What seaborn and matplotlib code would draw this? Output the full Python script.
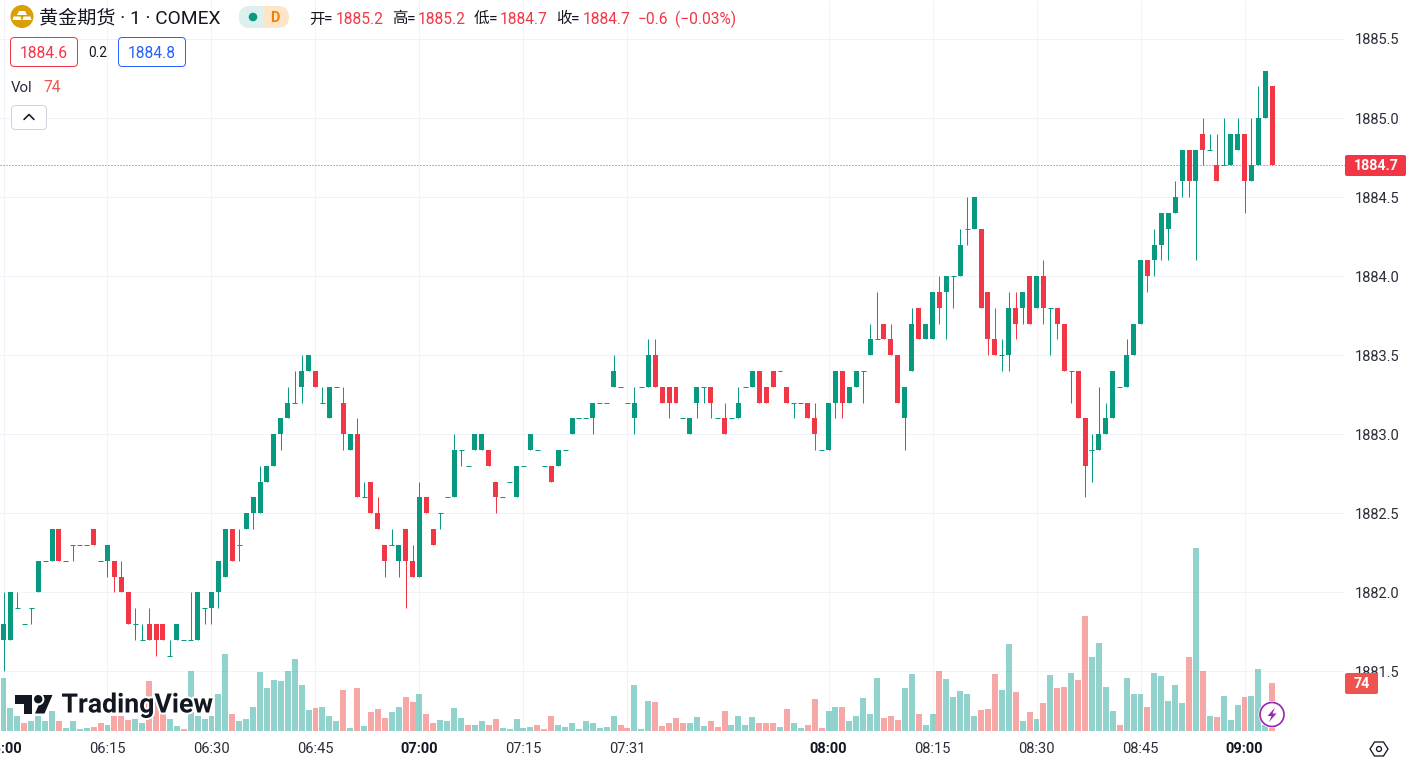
import numpy as np
import pandas as pd
import matplotlib
matplotlib.use("Agg")
import matplotlib.pyplot as plt
import matplotlib.patheffects as pe
from matplotlib.patches import Circle, FancyBboxPatch, Polygon, Rectangle
import seaborn as sns

opens = [
 1881.7,1881.7,1881.9,1881.8,1881.9,1882.0,1882.2,1882.2,1882.4,1882.2,
 1882.3,1882.3,1882.3,1882.4,1882.2,1882.2,1882.2,1882.1,1882.0,1881.8,
 1881.7,1881.8,1881.8,1881.8,1881.6,1881.7,1881.7,1881.7,1881.7,1881.9,
 1881.9,1882.0,1882.1,1882.4,1882.3,1882.4,1882.5,1882.5,1882.7,1882.8,
 1883.0,1883.1,1883.2,1883.3,1883.4,1883.4,1883.2,1883.1,1883.3,1883.2,
 1882.9,1883.0,1882.6,1882.7,1882.5,1882.3,1882.3,1882.2,1882.4,1882.2,
 1882.1,1882.6,1882.4,1882.5,1882.6,1882.6,1882.9,1882.8,1882.9,1882.9,
 1882.9,1882.7,1882.6,1882.7,1882.6,1882.8,1882.9,1882.9,1882.8,1882.8,
 1882.8,1882.9,1883.0,1883.1,1883.1,1883.1,1883.2,1883.2,1883.3,1883.3,
 1883.2,1883.1,1883.3,1883.3,1883.5,1883.3,1883.3,1883.3,1883.1,1883.0,
 1883.2,1883.3,1883.3,1883.1,1883.1,1883.1,1883.1,1883.3,1883.3,1883.4,
 1883.3,1883.4,1883.4,1883.3,1883.2,1883.2,1883.2,1883.1,1882.9,1882.9,
 1883.2,1883.4,1883.2,1883.3,1883.4,1883.5,1883.6,1883.7,1883.6,1883.5,
 1883.1,1883.4,1883.8,1883.6,1883.6,1883.9,1883.9,1884.0,1884.0,1884.3,
 1884.3,1884.3,1883.9,1883.6,1883.5,1883.5,1883.8,1883.8,1884.0,1883.8,
 1884.0,1883.8,1883.8,1883.7,1883.4,1883.4,1883.1,1882.9,1882.9,1883.0,
 1883.1,1883.3,1883.3,1883.5,1883.7,1884.1,1884.1,1884.2,1884.3,1884.4,
 1884.6,1884.8,1884.6,1884.9,1884.8,1884.7,1884.7,1884.7,1884.8,1884.9,
 1884.6,1884.7,1885.0,1885.2]
highs = [
 1882.0,1882.0,1882.0,1881.8,1881.9,1882.2,1882.2,1882.4,1882.4,1882.2,
 1882.3,1882.3,1882.3,1882.4,1882.2,1882.3,1882.2,1882.2,1882.0,1881.9,
 1881.8,1881.9,1881.8,1881.8,1881.7,1881.8,1881.7,1882.0,1882.0,1881.9,
 1882.0,1882.2,1882.4,1882.4,1882.4,1882.5,1882.6,1882.8,1882.8,1883.0,
 1883.1,1883.3,1883.4,1883.5,1883.5,1883.4,1883.3,1883.3,1883.3,1883.3,
 1883.0,1883.1,1882.7,1882.7,1882.6,1882.3,1882.4,1882.3,1882.4,1882.3,
 1882.7,1882.6,1882.4,1882.5,1882.6,1883.0,1882.9,1882.8,1883.0,1883.0,
 1882.9,1882.7,1882.6,1882.7,1882.8,1882.8,1883.0,1882.9,1882.8,1882.8,
 1882.9,1882.9,1883.1,1883.1,1883.1,1883.2,1883.2,1883.2,1883.5,1883.3,
 1883.2,1883.3,1883.3,1883.6,1883.6,1883.3,1883.3,1883.3,1883.1,1883.1,
 1883.3,1883.3,1883.3,1883.1,1883.2,1883.1,1883.3,1883.3,1883.4,1883.4,
 1883.3,1883.4,1883.4,1883.3,1883.2,1883.2,1883.2,1883.2,1882.9,1883.2,
 1883.4,1883.4,1883.3,1883.4,1883.4,1883.7,1883.9,1883.7,1883.7,1883.5,
 1883.3,1883.8,1883.8,1883.7,1883.9,1884.0,1884.0,1884.0,1884.3,1884.5,
 1884.5,1884.3,1883.9,1883.8,1883.6,1883.9,1883.9,1883.9,1884.0,1884.0,
 1884.1,1883.8,1883.8,1883.7,1883.4,1883.4,1883.1,1883.0,1883.3,1883.2,
 1883.4,1883.3,1883.6,1883.7,1884.1,1884.1,1884.3,1884.4,1884.4,1884.6,
 1884.8,1884.8,1884.8,1885.0,1884.9,1884.9,1885.0,1884.9,1885.0,1884.9,
 1885.0,1885.2,1885.3,1885.2]
lows = [
 1881.5,1881.7,1881.9,1881.8,1881.8,1882.0,1882.2,1882.2,1882.2,1882.2,
 1882.2,1882.3,1882.3,1882.3,1882.2,1882.1,1882.0,1882.0,1881.8,1881.7,
 1881.7,1881.7,1881.6,1881.7,1881.6,1881.7,1881.7,1881.7,1881.7,1881.8,
 1881.8,1881.9,1882.1,1882.2,1882.2,1882.4,1882.4,1882.5,1882.7,1882.8,
 1882.9,1883.1,1883.2,1883.2,1883.4,1883.3,1883.2,1883.1,1883.3,1882.9,
 1882.9,1882.6,1882.6,1882.5,1882.4,1882.1,1882.3,1882.1,1881.9,1882.1,
 1882.1,1882.5,1882.3,1882.4,1882.6,1882.6,1882.8,1882.8,1882.9,1882.9,
 1882.8,1882.5,1882.6,1882.7,1882.6,1882.8,1882.9,1882.9,1882.8,1882.7,
 1882.8,1882.9,1883.0,1883.1,1883.1,1883.0,1883.2,1883.2,1883.3,1883.3,
 1883.2,1883.0,1883.3,1883.3,1883.3,1883.2,1883.1,1883.2,1883.1,1883.0,
 1883.1,1883.2,1883.1,1883.1,1883.0,1883.1,1883.1,1883.3,1883.3,1883.2,
 1883.2,1883.3,1883.4,1883.2,1883.1,1883.2,1883.1,1882.9,1882.9,1882.9,
 1883.1,1883.1,1883.2,1883.3,1883.2,1883.5,1883.6,1883.6,1883.5,1883.2,
 1882.9,1883.4,1883.6,1883.6,1883.6,1883.7,1883.6,1883.8,1884.0,1884.2,
 1884.3,1883.8,1883.5,1883.5,1883.4,1883.4,1883.6,1883.7,1883.7,1883.8,
 1883.7,1883.5,1883.6,1883.4,1883.2,1883.1,1882.6,1882.7,1882.9,1883.0,
 1883.1,1883.3,1883.3,1883.5,1883.7,1883.9,1884.0,1884.1,1884.1,1884.4,
 1884.5,1884.5,1884.1,1884.7,1884.8,1884.6,1884.7,1884.7,1884.8,1884.4,
 1884.6,1884.7,1885.0,1884.7]
closes = [
 1881.8,1882.0,1881.9,1881.8,1881.9,1882.2,1882.2,1882.4,1882.2,1882.2,
 1882.3,1882.3,1882.3,1882.3,1882.2,1882.3,1882.1,1882.0,1881.8,1881.8,
 1881.7,1881.7,1881.7,1881.7,1881.6,1881.8,1881.7,1881.7,1882.0,1881.9,
 1882.0,1882.2,1882.4,1882.2,1882.3,1882.5,1882.6,1882.7,1882.8,1883.0,
 1883.1,1883.2,1883.2,1883.4,1883.5,1883.3,1883.2,1883.3,1883.3,1883.0,
 1883.0,1882.6,1882.6,1882.5,1882.4,1882.2,1882.3,1882.3,1882.2,1882.1,
 1882.6,1882.5,1882.3,1882.5,1882.6,1882.9,1882.9,1882.8,1883.0,1883.0,
 1882.8,1882.6,1882.6,1882.7,1882.8,1882.8,1883.0,1882.9,1882.8,1882.7,
 1882.9,1882.9,1883.1,1883.1,1883.1,1883.2,1883.2,1883.2,1883.4,1883.3,
 1883.2,1883.2,1883.3,1883.5,1883.3,1883.2,1883.2,1883.2,1883.1,1883.1,
 1883.3,1883.3,1883.2,1883.1,1883.0,1883.1,1883.2,1883.3,1883.4,1883.2,
 1883.2,1883.3,1883.4,1883.2,1883.2,1883.2,1883.1,1883.0,1882.9,1883.2,
 1883.4,1883.2,1883.3,1883.4,1883.4,1883.6,1883.6,1883.6,1883.5,1883.2,
 1883.3,1883.7,1883.6,1883.7,1883.9,1883.8,1884.0,1884.0,1884.2,1884.3,
 1884.5,1883.8,1883.6,1883.5,1883.5,1883.8,1883.7,1883.9,1883.7,1884.0,
 1883.8,1883.8,1883.7,1883.4,1883.4,1883.1,1882.8,1882.9,1883.0,1883.1,
 1883.4,1883.3,1883.5,1883.7,1884.1,1884.0,1884.2,1884.4,1884.4,1884.5,
 1884.8,1884.6,1884.8,1884.8,1884.8,1884.6,1884.7,1884.9,1884.9,1884.6,
 1884.7,1885.0,1885.3,1884.7]
volumes = [
 82,35,23,13,15,23,15,31,15,4,
 15,3,4,6,12,9,23,23,17,18,
 13,77,48,27,18,7,3,93,23,18,
 23,57,119,26,15,18,38,91,66,79,
 77,93,111,71,32,35,37,23,15,63,
 4,66,7,29,34,20,29,38,52,45,
 57,27,13,17,15,35,20,9,9,15,
 10,18,4,3,18,4,6,9,3,24,
 10,6,12,3,15,12,4,6,24,9,
 4,71,3,46,45,7,12,20,12,12,
 21,7,15,6,31,9,23,9,21,12,
 12,12,6,34,12,4,9,49,4,31,
 38,37,15,24,51,27,82,20,23,17,
 66,88,26,9,26,93,80,52,62,57,
 24,32,34,88,63,135,60,15,29,18,
 43,87,66,68,90,79,178,115,136,68,
 31,9,82,57,57,38,90,85,46,71,
 43,115,284,93,23,21,55,17,41,52,
 54,96,10,74]
volume_sides = (
 "gggrggggrg" "gggrrgrrrg" "grrrggrggg" "gggrgggggg" "gggggrgggr"
 "grgrrrggrr" "grrggggrgg" "rrgggggrrr" "gggggggggr" "rgggrrrrrg"
 "ggrrrggggr" "rrgrggrrrg" "grgggggrrr" "ggrggrgggg" "grrrggrgrg"
 "rgrrgrrggg" "grgggrgggg" "grgrgrgggr" "gggr")
time_ticks = [0, 15, 30, 45, 60, 75, 90, 119, 134, 149, 164, 179]
time_labels = ["06:00", "06:15", "06:30", "06:45", "07:00", "07:15", "07:31",
               "08:00", "08:15", "08:30", "08:45", "09:00"]
bold_labels = ["06:00", "07:00", "08:00", "09:00"]
price_ticks = [1881.5, 1882.0, 1882.5, 1883.0, 1883.5, 1884.0, 1884.5, 1885.0, 1885.5]
last_price = 1884.7

UP, DOWN = "#089981", "#F23645"
VOL_UP, VOL_DOWN = "#26A69A", "#EF5350"
GRID = "#F0F3FA"
INK = "#131722"
W, H = 1407, 761
PX = 0.72  # points per pixel at 100 dpi

sns.set_theme(style="white")
plt.rcParams["font.family"] = ["Roboto", "Noto Sans CJK SC", "DejaVu Sans"]

fig = plt.figure(figsize=(W / 100, H / 100), dpi=100, facecolor="white")
ax = fig.add_axes([0, (H - 731) / H, 1345 / W, 731 / H])
ax.set_facecolor("white")
vax = ax.twinx()
vax.patch.set_visible(False)

x = np.arange(len(opens))
o, hi, lo, c = map(np.array, (opens, highs, lows, closes))
up = c >= o
colors = np.where(up, UP, DOWN)

df = pd.DataFrame({"bar": x, "volume": volumes, "side": list(volume_sides)})
sns.barplot(data=df, x="bar", y="volume", hue="side", native_scale=True, dodge=False,
            palette={"g": VOL_UP, "r": VOL_DOWN}, saturation=1, alpha=0.5, width=0.86,
            linewidth=0, errorbar=None, legend=False, ax=vax)
vax.set_ylim(0, 731 / 0.6446)
vax.set_xlabel("")
vax.set_ylabel("")
vax.set_yticks([])
for s in vax.spines.values():
    s.set_visible(False)

ax.vlines(x, lo, hi, colors=colors, linewidth=1 * PX, zorder=3)
solid = o != c
ax.bar(x[solid], np.abs(c - o)[solid], bottom=np.minimum(o, c)[solid], width=0.72,
       color=colors[solid], linewidth=0, zorder=4)
ax.hlines(c[~solid], x[~solid] - 0.36, x[~solid] + 0.36, colors=colors[~solid],
          linewidth=1 * PX, zorder=4)
ax.axhline(last_price, color=DOWN, linewidth=1 * PX, linestyle=(0, (1, 2)), zorder=5)

ax.set_xlim((0 - 3.5) / 6.933, (1345 - 3.5) / 6.933)
ax.set_ylim(1885.5 - (731 - 39) / 158.1, 1885.5 + 39 / 158.1)
ax.grid(True, color=GRID, linewidth=1 * PX)
ax.set_axisbelow(True)
for s in ax.spines.values():
    s.set_visible(False)
ax.yaxis.tick_right()
ax.set_yticks(price_ticks, [f"{v:.1f}" for v in price_ticks])
ax.set_xticks(time_ticks, time_labels)
ax.tick_params(axis="both", length=0, colors="#2A2E39", labelsize=14.6 * PX)
ax.tick_params(axis="y", pad=10 * PX)
ax.tick_params(axis="x", pad=11 * PX)
for t in ax.get_xticklabels():
    if t.get_text() in bold_labels:
        t.set_fontweight("bold")
        t.set_color(INK)

# interface overlay, in pixel coordinates of the screenshot
ui = fig.add_axes([0, 0, 1, 1], zorder=10)
ui.set_xlim(0, W)
ui.set_ylim(H, 0)
ui.axis("off")
ui.patch.set_visible(False)


def label(px, py, s, size, color=INK, ha="left", **kw):
    return ui.text(px, py, s, fontsize=size * PX, color=color, ha=ha, va="center", **kw)


def rbox(x0, y0, x1, y1, fc="white", ec="none", lw=1, r=4, **kw):
    p = FancyBboxPatch((x0, y0), x1 - x0, y1 - y0, boxstyle=f"round,pad=0,rounding_size={r}",
                       fc=fc, ec=ec, lw=lw * PX, **kw)
    ui.add_patch(p)
    return p


# symbol logo
ui.add_patch(Circle((22, 16.5), 11.5, fc="#DA9F05", ec="none"))
ui.add_patch(Polygon([(19, 11), (25, 11), (27, 15), (17, 15)], fc="white", ec="none"))
ui.add_patch(Polygon([(13.5, 16.5), (20.5, 16.5), (21.5, 20), (12.5, 20)], fc="white", ec="none"))
ui.add_patch(Polygon([(23.5, 16.5), (30.5, 16.5), (31.5, 20), (22.5, 20)], fc="white", ec="none"))
label(39, 18.5, "黄金期货 · 1 · COMEX", 19.1)

# status pill
pill = rbox(239, 6, 289, 28, fc="#FFE5C7", r=11)
left = Rectangle((239, 6), 25, 22, fc="#DCF1ED", ec="none")
ui.add_patch(left)
left.set_clip_path(pill)
ui.add_patch(Circle((253, 17), 4.3, fc=UP, ec="none"))
label(275, 17.5, "D", 14.5, color="#F57C00", ha="center", fontweight="bold")

# OHLC legend
for px, s, col in [(309, "开", INK), (324, "=", INK), (336, "1885.2", DOWN),
                   (392, "高", INK), (407, "=", INK), (418, "1885.2", DOWN),
                   (474, "低", INK), (489, "=", INK), (500, "1884.7", DOWN),
                   (556, "收", INK), (571, "=", INK), (583, "1884.7", DOWN),
                   (638, "−0.6", DOWN), (675, "(−0.03%)", DOWN)]:
    label(px, 19, s, 15.5, color=col)

# bid / ask
rbox(10.5, 37.5, 77.5, 66.5, ec=DOWN)
label(44, 53, "1884.6", 15.6, color=DOWN, ha="center")
label(97.5, 53, "0.2", 13.8, ha="center")
rbox(118.5, 37.5, 185.5, 66.5, ec="#2962FF")
label(152, 53, "1884.8", 15.6, color="#2962FF", ha="center")

# volume legend and collapse button
label(11, 88, "Vol", 15, color="#2A2E39")
label(43, 88, "74", 15.5, color=VOL_DOWN)
rbox(11.5, 105.5, 46.5, 129.5, ec="#D1D4DC")
ui.plot([24, 29, 34], [119.5, 114.5, 119.5], color=INK, lw=1.6 * PX)

# last value boxes
rbox(1345, 155, 1406, 176, fc=DOWN, r=2)
label(1376, 166, "1884.7", 14.3, color="white", ha="center", fontweight="bold")
rbox(1345, 673, 1378, 694, fc=VOL_DOWN, r=2)
label(1362, 684, "74", 14.3, color="white", ha="center", fontweight="bold")

# TradingView watermark
halo = [pe.withStroke(linewidth=4 * PX, foreground="white")]
LOGO = "#131722"
for poly in ([(15, 695), (32, 695), (32, 713.5), (23.5, 713.5), (23.5, 703.5), (15, 703.5)],
             [(43, 695), (52.5, 695), (44.5, 713.5), (35, 713.5)]):
    ui.add_patch(Polygon(poly, fc=LOGO, ec="none", path_effects=halo))
ui.add_patch(Circle((38.2, 699.2), 4.2, fc=LOGO, ec="none", path_effects=halo))
label(61.5, 705, "TradingView", 26.7, color=LOGO, fontweight="bold", path_effects=halo)

# lightning marker
ui.add_patch(Circle((1272, 714.5), 13.5, fc="white", ec="none"))
ui.add_patch(Circle((1272, 714.5), 12, fc="white", ec="#9C27B0", lw=1.7 * PX))
ui.add_patch(Polygon([(1275, 707.5), (1267.5, 716), (1271.5, 716), (1269, 722),
                      (1276.5, 713.5), (1272.5, 713.5)], fc="#9C27B0", ec="none"))

# settings icon
ui.add_patch(Polygon([(1370, 749), (1374.5, 742), (1383.5, 742), (1388, 749),
                      (1383.5, 756), (1374.5, 756)], fc="white", ec=INK, lw=1.3 * PX))
ui.add_patch(Circle((1379, 749), 2.5, fc="white", ec=INK, lw=1.3 * PX))

fig.savefig("out.png", dpi=100)
